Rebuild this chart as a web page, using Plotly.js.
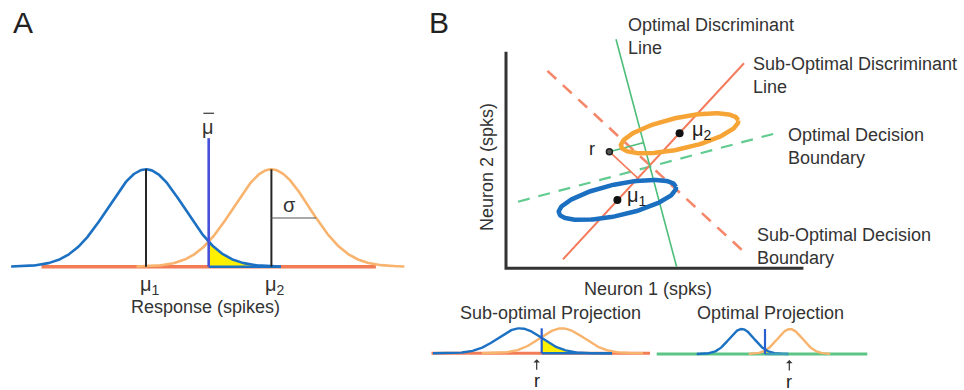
<!DOCTYPE html>
<html><head><meta charset="utf-8">
<script src="https://cdn.plot.ly/plotly-3.0.1.min.js"></script>
<style>html,body{margin:0;padding:0;background:#fff}</style>
</head><body><div id="chart" style="width:964px;height:390px"></div>
<script>
// ---------- Panel A: single-neuron response distributions (spikes) ----------
const respMeans = [10, 16.6];          // mu1, mu2
const respSigma = 2;
const respThreshold = 13.3;            // mu-bar
const respThresholdHeight = 1.32;
const respBlueExtent = [2.9, 17.1];
const respOrangeExtent = [9.5, 23.6];
const respBaselineExtent = [4.5, 22.1];

// ---------- Panel B: two-neuron response space (spks) ----------
const neuronMu1 = [5.57, 3.42];
const neuronMu2 = [8.68, 6.75];
const trialR = [5.17, 5.83];
const ellipseSemiAxes = [3.0, 0.78];
const ellipseTiltDeg = 12.5;
const optDiscX = [5.5, 8.53],  optDiscY = [11.45, 0.08];
const optBoundX = [0.6, 13.48], optBoundY = [3.33, 6.75];
const subDiscX = [2.85, 11.9], subDiscY = [0.45, 10.25];
const subBoundX = [2.07, 11.89], subBoundY = [9.87, 0.83];
const rOnOptDisc = [6.86, 6.28];
const rOnSubDisc = [6.59, 4.51];
const axisXMax = 14.87, axisYMax = 10.83;

// ---------- Bottom: projections ----------
const subProjMeans = [0, 4.2], subProjSigma = 2.2, subProjThreshold = 2.17, subProjR = 1.67;
const subProjBlueExtent = [-8.7, 9.2], subProjOrangeExtent = [-3.8, 12.3], subProjBaseline = [-8.85, 13.0];
const optProjMeans = [0, 4.83], optProjSigma = 1.25, optProjThreshold = 2.33, optProjR = 4.76;
const optProjBlueExtent = [-4.5, 4.65], optProjOrangeExtent = [0.7, 8.85], optProjBaseline = [-8.5, 12.56];
const projThresholdHeight = 1.0;

// ---------- helpers ----------
const W = 964, H = 390;
const fx = p => p / W, fy = p => 1 - p / H;
function axesFor(box, origin, scale) {
  const common = {visible: false, fixedrange: true, showgrid: false, zeroline: false};
  return {
    x: Object.assign({domain: [fx(box[0]), fx(box[1])], range: [(box[0]-origin[0])/scale[0], (box[1]-origin[0])/scale[0]]}, common),
    y: Object.assign({domain: [fy(box[3]), fy(box[2])], range: [(origin[1]-box[3])/scale[1], (origin[1]-box[2])/scale[1]]}, common)
  };
}
function gauss(lo, hi, mu, s, n) {
  n = n || 240; const x = [], y = [];
  for (let i = 0; i <= n; i++) { const v = lo + (hi - lo) * i / n; x.push(v); y.push(Math.exp(-0.5 * ((v - mu) / s) ** 2)); }
  return {x, y};
}
function tail(lo, hi, mu, s) {
  const g = gauss(lo, hi, mu, s, 160);
  return {x: [lo].concat(g.x, [hi, lo]), y: [0].concat(g.y, [0, 0])};
}
function ellipse(c, ab, deg) {
  const t = deg * Math.PI / 180, x = [], y = [];
  for (let i = 0; i <= 180; i++) {
    const a = 2 * Math.PI * i / 180, u = ab[0] * Math.cos(a), v = ab[1] * Math.sin(a);
    x.push(c[0] + u * Math.cos(t) - v * Math.sin(t)); y.push(c[1] + u * Math.sin(t) + v * Math.cos(t));
  }
  return {x, y};
}
const BLUE = '#1c71c3', ORANGE = '#f8b46e', REDOR = '#f27c56', YELLOW = '#fff000', GREEN = '#4dbe79';
const ln = (xa, ya, x, y, color, width, dash) => ({type: 'scatter', mode: 'lines', xaxis: xa, yaxis: ya, x, y,
  line: {color, width, dash: dash || 'solid'}, hoverinfo: 'skip'});
const fillTrace = (xa, ya, d) => ({type: 'scatter', mode: 'lines', xaxis: xa, yaxis: ya, x: d.x, y: d.y,
  fill: 'toself', fillcolor: YELLOW, line: {width: 0, color: YELLOW}, hoverinfo: 'skip'});

const A = axesFor([0, 420, 100, 300], [-44, 266.7], [19, 97.4]);
const B = axesFor([440, 964, 20, 282], [506, 268.3], [20, 20]);
const P1 = axesFor([425, 655, 318, 372], [520, 353.3], [10, 25]);
const P2 = axesFor([652, 875, 318, 372], [741.7, 354], [10, 25]);

const traces = [];
// Panel A
const aBlue = gauss(respBlueExtent[0], respBlueExtent[1], respMeans[0], respSigma);
const aOrange = gauss(respOrangeExtent[0], respOrangeExtent[1], respMeans[1], respSigma);
traces.push(ln('x', 'y', respBaselineExtent, [0, 0], REDOR, 3.5));
traces.push(ln('x', 'y', aOrange.x, aOrange.y, ORANGE, 2.6));
traces.push(fillTrace('x', 'y', tail(respThreshold, respBlueExtent[1], respMeans[0], respSigma)));
traces.push(ln('x', 'y', aBlue.x, aBlue.y, BLUE, 2.6));
traces.push(ln('x', 'y', [respThreshold, respBlueExtent[1]], [0, 0], BLUE, 2.6));
traces.push(ln('x', 'y', [respMeans[0], respMeans[0], null, respMeans[1], respMeans[1]], [0, 1, null, 0, 1], '#262626', 2));
traces.push(ln('x', 'y', [respMeans[1], respMeans[1] + 1.1774 * respSigma], [0.5, 0.5], '#555', 1.2));
traces.push(ln('x', 'y', [respThreshold, respThreshold], [0, respThresholdHeight], '#4650d8', 2.6));
// overline of the mu-bar label (just above the threshold line)
traces.push(ln('x', 'y', [respThreshold - 0.28, respThreshold + 0.28], [respThresholdHeight + 0.255, respThresholdHeight + 0.255], '#444', 1.3));

// Panel B
traces.push(ln('x2', 'y2', [0, 0, axisXMax], [axisYMax, 0, 0], '#333', 3));
traces.push(ln('x2', 'y2', subBoundX, subBoundY, '#f5886a', 2.6, '12px,9px'));
traces.push(ln('x2', 'y2', optBoundX, optBoundY, '#62cb90', 2.2, '12px,9px'));
traces.push(ln('x2', 'y2', subDiscX, subDiscY, '#f47b5c', 2));
traces.push(ln('x2', 'y2', optDiscX, optDiscY, GREEN, 1.6));
traces.push(ln('x2', 'y2', [trialR[0], rOnOptDisc[0]], [trialR[1], rOnOptDisc[1]], GREEN, 1.6));
traces.push(ln('x2', 'y2', [trialR[0], rOnSubDisc[0]], [trialR[1], rOnSubDisc[1]], '#f47b5c', 1.6));
const e2 = ellipse(neuronMu2, ellipseSemiAxes, ellipseTiltDeg);
const e1 = ellipse(neuronMu1, ellipseSemiAxes, ellipseTiltDeg);
traces.push(ln('x2', 'y2', e2.x, e2.y, '#f6a435', 4.5));
traces.push(ln('x2', 'y2', e1.x, e1.y, '#1b6fc1', 4.5));
traces.push({type: 'scatter', mode: 'markers', xaxis: 'x2', yaxis: 'y2', x: [neuronMu1[0], neuronMu2[0]], y: [neuronMu1[1], neuronMu2[1]],
  marker: {color: '#111', size: 8}, hoverinfo: 'skip'});
traces.push({type: 'scatter', mode: 'markers', xaxis: 'x2', yaxis: 'y2', x: [trialR[0]], y: [trialR[1]],
  marker: {color: '#555', size: 6, line: {color: '#222', width: 1.5}}, hoverinfo: 'skip'});

// Sub-optimal projection
const sB = gauss(subProjBlueExtent[0], subProjBlueExtent[1], subProjMeans[0], subProjSigma);
const sO = gauss(subProjOrangeExtent[0], subProjOrangeExtent[1], subProjMeans[1], subProjSigma);
traces.push(ln('x3', 'y3', subProjBaseline, [0, 0], REDOR, 3));
traces.push(ln('x3', 'y3', sO.x, sO.y, ORANGE, 2.4));
traces.push(fillTrace('x3', 'y3', tail(subProjThreshold, subProjBlueExtent[1], subProjMeans[0], subProjSigma)));
traces.push(ln('x3', 'y3', sB.x, sB.y, BLUE, 2.4));
traces.push(ln('x3', 'y3', [subProjThreshold, subProjBlueExtent[1]], [0, 0], BLUE, 2.4));
traces.push(ln('x3', 'y3', [subProjThreshold, subProjThreshold], [0, projThresholdHeight], '#2a5fcf', 2.2));

// Optimal projection
const oB = gauss(optProjBlueExtent[0], optProjBlueExtent[1], optProjMeans[0], optProjSigma);
const oO = gauss(optProjOrangeExtent[0], optProjOrangeExtent[1], optProjMeans[1], optProjSigma);
traces.push(ln('x4', 'y4', optProjBaseline, [0, 0], '#5cc585', 3));
traces.push(ln('x4', 'y4', oO.x, oO.y, ORANGE, 2.4));
traces.push(fillTrace('x4', 'y4', tail(optProjThreshold, optProjBlueExtent[1], optProjMeans[0], optProjSigma)));
traces.push(ln('x4', 'y4', oB.x, oB.y, BLUE, 2.4));
traces.push(ln('x4', 'y4', [optProjThreshold, optProjBlueExtent[1]], [0, 0], '#3f9fb8', 2.4));
traces.push(ln('x4', 'y4', [optProjThreshold, optProjThreshold], [0, projThresholdHeight], '#2a5fcf', 2.2));

// ---------- annotations ----------
const FONT = 'Liberation Sans, Arial, sans-serif', TXT = '#333';
const note = (px, py, text, size, extra) => Object.assign({xref: 'paper', yref: 'paper', x: fx(px), y: fy(py), text,
  showarrow: false, xanchor: 'center', yanchor: 'middle', font: {family: FONT, size: size || 18, color: TXT}}, extra || {});
const annotations = [
  note(23, 22, 'A', 30, {font: {family: FONT, size: 30, color: '#222'}}),
  note(439, 22, 'B', 30, {font: {family: FONT, size: 30, color: '#222'}}),
  note(205, 307, 'Response (spikes)', 18),
  note(648, 289, 'Neuron 1 (spks)', 18),
  note(487, 167, 'Neuron 2 (spks)', 18, {textangle: -90}),
  note(626, 36.5, 'Optimal Discriminant<br>Line', 18, {xanchor: 'left', align: 'left'}),
  note(751, 76, 'Sub-Optimal Discriminant<br>Line', 18, {xanchor: 'left', align: 'left'}),
  note(786, 146, 'Optimal Decision<br>Boundary', 18, {xanchor: 'left', align: 'left'}),
  note(755, 246, 'Sub-Optimal Decision<br>Boundary', 18, {xanchor: 'left', align: 'left'}),
  note(550, 313, 'Sub-optimal Projection', 18),
  note(770.5, 313, 'Optimal Projection', 18),
  note(207.5, 127, 'μ', 20),
  note(289, 205, 'σ', 20),
  note(150, 285, 'μ<sub>1</sub>', 20),
  note(275, 285, 'μ<sub>2</sub>', 20),
  {xref: 'x2', yref: 'y2', x: neuronMu2[0], y: neuronMu2[1], text: 'μ<sub>2</sub>', showarrow: false, xanchor: 'left', yanchor: 'middle',
   xshift: 10, yshift: 3, font: {family: FONT, size: 20, color: '#222'}},
  {xref: 'x2', yref: 'y2', x: neuronMu1[0], y: neuronMu1[1], text: 'μ<sub>1</sub>', showarrow: false, xanchor: 'left', yanchor: 'middle',
   xshift: 8, yshift: 3, font: {family: FONT, size: 20, color: '#222'}},
  {xref: 'x2', yref: 'y2', x: trialR[0], y: trialR[1], text: 'r', showarrow: false, xanchor: 'right', yanchor: 'middle',
   xshift: -12, yshift: 3, font: {family: FONT, size: 18, color: '#222'}},
  {xref: 'x3', yref: 'y3', x: subProjR, y: -0.24, text: 'r', showarrow: true, ax: 0, ay: 22, arrowhead: 1, arrowsize: 0.9,
   arrowwidth: 1.2, arrowcolor: '#333', font: {family: FONT, size: 18, color: '#222'}},
  {xref: 'x4', yref: 'y4', x: optProjR, y: -0.24, text: 'r', showarrow: true, ax: 0, ay: 22, arrowhead: 1, arrowsize: 0.9,
   arrowwidth: 1.2, arrowcolor: '#333', font: {family: FONT, size: 18, color: '#222'}}
];

const layout = {
  width: W, height: H, margin: {l: 0, r: 0, t: 0, b: 0}, showlegend: false, hovermode: false,
  paper_bgcolor: '#fff', plot_bgcolor: 'rgba(0,0,0,0)',
  xaxis: Object.assign(A.x, {anchor: 'y'}), yaxis: Object.assign(A.y, {anchor: 'x'}),
  xaxis2: Object.assign(B.x, {anchor: 'y2'}), yaxis2: Object.assign(B.y, {anchor: 'x2'}),
  xaxis3: Object.assign(P1.x, {anchor: 'y3'}), yaxis3: Object.assign(P1.y, {anchor: 'x3'}),
  xaxis4: Object.assign(P2.x, {anchor: 'y4'}), yaxis4: Object.assign(P2.y, {anchor: 'x4'}),
  annotations
};
Plotly.newPlot('chart', traces, layout, {staticPlot: true, displayModeBar: false});
</script></body></html>
